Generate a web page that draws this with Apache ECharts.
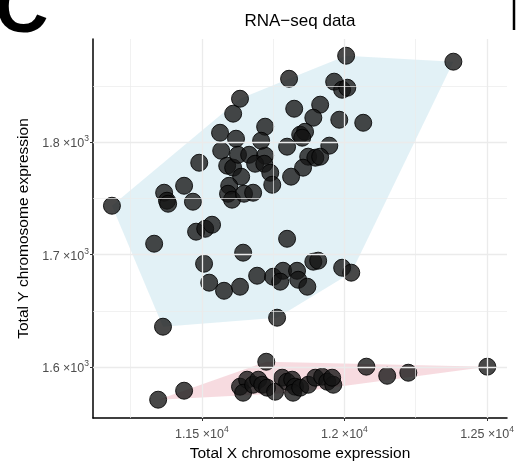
<!DOCTYPE html>
<html>
<head>
<meta charset="utf-8">
<script src="https://cdn.jsdelivr.net/npm/echarts@6/dist/echarts.min.js"></script>
<style>html,body{margin:0;padding:0;background:#fff;}#c{width:517px;height:461px;}</style>
</head>
<body>
<div id="c"></div>
<script>
// ---- data ----
const upperX = [11185,11333,11364,11368,11378,11382,11438,11469,11480,11512,
  11536,11491,11508,11526,11578,11634,11645,11694,11750,11785,
  11775,11834,11838,11870,11799,11764,11891,11908,11992,12024,
  11564,11568,11620,11610,11634,11589,11610,11638,11596,11592,
  11606,11648,11680,11627,11666,11722,11687,11719,11740,11747,
  11722,11708,11806,11824,11915,11891,11845,11862,11852,11799,
  11947,11873,11898,11915,11855,11813,11964,11992,12010,12006,
  12382,11982,12066];
const upperY = [1743.6,1709.8,1635.9,1755.2,1748.1,1745.4,1761.4,1747.2,1720.5,1723.1,
  1726.7,1781.9,1692,1675.1,1667.9,1671.5,1701.8,1681.3,1680.4,1685.7,
  1676,1685.7,1677.7,1671.5,1714.2,1643.9,1693.8,1694.7,1688.4,1684,
  1808.6,1792.6,1803.3,1825.6,1838.9,1779.3,1777.5,1769.5,1761.4,1754.3,
  1749,1754.3,1755.2,1789,1789,1788.2,1781,1781,1773,1762.3,
  1814,1801.5,1856.7,1830,1833.6,1822,1806.9,1809.5,1804.2,1796.2,
  1797.1,1787.3,1786.4,1787.3,1777.5,1769.5,1854.1,1846.9,1848.7,1877.2,
  1871.9,1820.2,1817.5];
const lowerX = [11347,11438,11726,12077,12150,12224,12501,11634,11659,11645,
  11680,11698,11712,11729,11757,11782,11799,11817,11827,11820,
  11845,11873,11898,11922,11940,11961,11957];
const lowerY = [1570.9,1578.9,1604.7,1600.3,1592.2,1594.9,1600.3,1582.5,1588.7,1577.1,
  1584.2,1588.7,1584.2,1581.6,1578,1590.5,1586.9,1588.7,1582.5,1577.1,
  1581.6,1584.2,1590.5,1591.4,1586.9,1584.2,1590.5];
const xTicks = [11500, 12000, 12500];
const xMinor = [11250, 11750, 12250];
const yTicks = [1600, 1700, 1800];
const yMinor = [1650, 1750, 1850];
const titleText = 'RNA\u2212seq data';
const xName = 'Total X chromosome expression';
const yName = 'Total Y chromosome expression';

// ---- helpers ----
function zip(xs, ys) { return xs.map((x, i) => [x, ys[i]]); }
function hull(pts) {
  const p = pts.slice().sort((a, b) => a[0] - b[0] || a[1] - b[1]);
  const cross = (o, a, b) => (a[0]-o[0])*(b[1]-o[1]) - (a[1]-o[1])*(b[0]-o[0]);
  const lo = [], up = [];
  for (const q of p) { while (lo.length >= 2 && cross(lo[lo.length-2], lo[lo.length-1], q) <= 0) lo.pop(); lo.push(q); }
  for (let i = p.length - 1; i >= 0; i--) { const q = p[i]; while (up.length >= 2 && cross(up[up.length-2], up[up.length-1], q) <= 0) up.pop(); up.push(q); }
  up.pop(); lo.pop();
  return lo.concat(up);
}
const upperPts = zip(upperX, upperY);
const lowerPts = zip(lowerX, lowerY);
const hulls = [hull(upperPts), hull(lowerPts)];
const hullFill = ['rgba(173,216,230,0.35)', 'rgba(225,110,130,0.25)'];

const chart = echarts.init(document.getElementById('c'), null, {renderer: 'canvas'});
const richLbl = {
  b: {color: '#4d4d4d', fontSize: 12.5, fontFamily: 'Liberation Sans', lineHeight: 16, verticalAlign: 'bottom'},
  s: {color: '#4d4d4d', fontSize: 8.5, fontFamily: 'Liberation Sans', lineHeight: 16, verticalAlign: 'top'}
};
const gridLine = (vals, axis, w) => vals.map(v => ({[axis]: v, lineStyle: {width: w}}));

chart.setOption({
  animation: false,
  backgroundColor: '#fff',
  grid: {left: 93, right: 10, top: 39, bottom: 43, containLabel: false, outerBoundsMode: 'none'},
  xAxis: {
    type: 'value', min: 11118.6, max: 12570,
    name: xName, nameLocation: 'middle', nameGap: 22,
    nameTextStyle: {color: '#000', fontSize: 15.5, fontFamily: 'Liberation Sans'},
    axisLine: {show: true, onZero: false, lineStyle: {color: '#000', width: 1.5}},
    axisTick: {show: true, customValues: xTicks, length: 3, lineStyle: {color: '#333', width: 1}},
    axisLabel: {customValues: xTicks, margin: 7, rich: richLbl,
      formatter: v => '{b|' + (v / 10000) + ' \u00d710}{s|4}'},
    splitLine: {show: false}
  },
  yAxis: {
    type: 'value', min: 1554.6, max: 1892.1,
    name: yName, nameLocation: 'middle', nameGap: 59,
    nameTextStyle: {color: '#000', fontSize: 15.5, fontFamily: 'Liberation Sans'},
    axisLine: {show: true, onZero: false, lineStyle: {color: '#000', width: 1.5}},
    axisTick: {show: true, customValues: yTicks, length: 3, lineStyle: {color: '#333', width: 1}},
    axisLabel: {customValues: yTicks, margin: 4, rich: richLbl,
      formatter: v => '{b|' + (v / 1000) + ' \u00d710}{s|3}'},
    splitLine: {show: false}
  },
  series: [
    {
      type: 'line', data: [], silent: true, z: 0,
      markLine: {
        silent: true, symbol: 'none', label: {show: false}, animation: false,
        lineStyle: {color: '#ebebeb', type: 'solid'},
        data: gridLine(xMinor, 'xAxis', 0.7).concat(gridLine(yMinor, 'yAxis', 0.7),
              gridLine(xTicks, 'xAxis', 1.3), gridLine(yTicks, 'yAxis', 1.3))
      }
    },
    {
      type: 'custom', z: 1, silent: true,
      data: [[11500, 1700], [11500, 1600]],
      renderItem: (params, api) => {
        const h = hulls[params.dataIndex];
        return {type: 'polygon', shape: {points: h.map(p => api.coord(p))},
          style: {fill: hullFill[params.dataIndex], stroke: null}};
      }
    },
    {
      type: 'scatter', z: 3, data: upperPts, symbolSize: 17,
      itemStyle: {color: 'rgba(20,20,20,0.78)', borderColor: 'rgba(0,0,0,0.85)', borderWidth: 1, opacity: 1}
    },
    {
      type: 'scatter', z: 3, data: lowerPts, symbolSize: 17,
      itemStyle: {color: 'rgba(20,20,20,0.78)', borderColor: 'rgba(0,0,0,0.85)', borderWidth: 1, opacity: 1}
    }
  ],
  graphic: [
    {type: 'text', x: 300, y: 21, style: {text: titleText, fontSize: 17, fontFamily: 'Liberation Sans', fill: '#000', textAlign: 'center', textVerticalAlign: 'middle'}},
    {type: 'text', x: -5, y: 12, style: {text: 'C', fontSize: 74, fontWeight: 'bold', fontFamily: 'Liberation Sans', fill: '#000', textVerticalAlign: 'middle'}},
    {type: 'line', shape: {x1: 514, y1: 0, x2: 514, y2: 30}, style: {stroke: '#000', lineWidth: 2.5}}
  ]
});
</script>
</body>
</html>
